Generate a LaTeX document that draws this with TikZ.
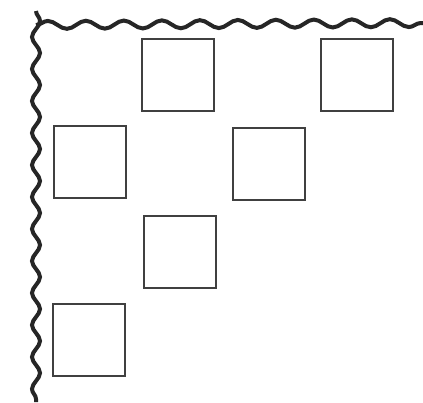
\documentclass[tikz,border=0pt]{standalone}
\usetikzlibrary{decorations.pathmorphing}

\begin{document}
\begin{tikzpicture}[
    x=1pt, y=-1pt,
    box/.style={rectangle, draw=black!75, line width=1.3pt, minimum size=72pt, inner sep=0pt},
    border/.style={draw=black!85, line width=4pt, decorate, decoration={snake, amplitude=4pt, segment length=38pt}}
]
\useasboundingbox (0,0) rectangle (423,402);

% wavy edges
\coordinate (corner) at (36,25);
\coordinate (topend) at (423,23);
\coordinate (leftend) at (36,402);
\draw[border] (corner) -- (topend);
\draw[border, decoration={segment length=32pt}] ([yshift=14pt]corner) -- (leftend);

% squares
\node[box] (b11) at (178,75) {};
\node[box] (b12) at (357,75) {};
\node[box] (b21) at (90,162) {};
\node[box] (b22) at (269,164) {};
\node[box] (b31) at (180,252) {};
\node[box] (b41) at (89,340) {};

\end{tikzpicture}
\end{document}
